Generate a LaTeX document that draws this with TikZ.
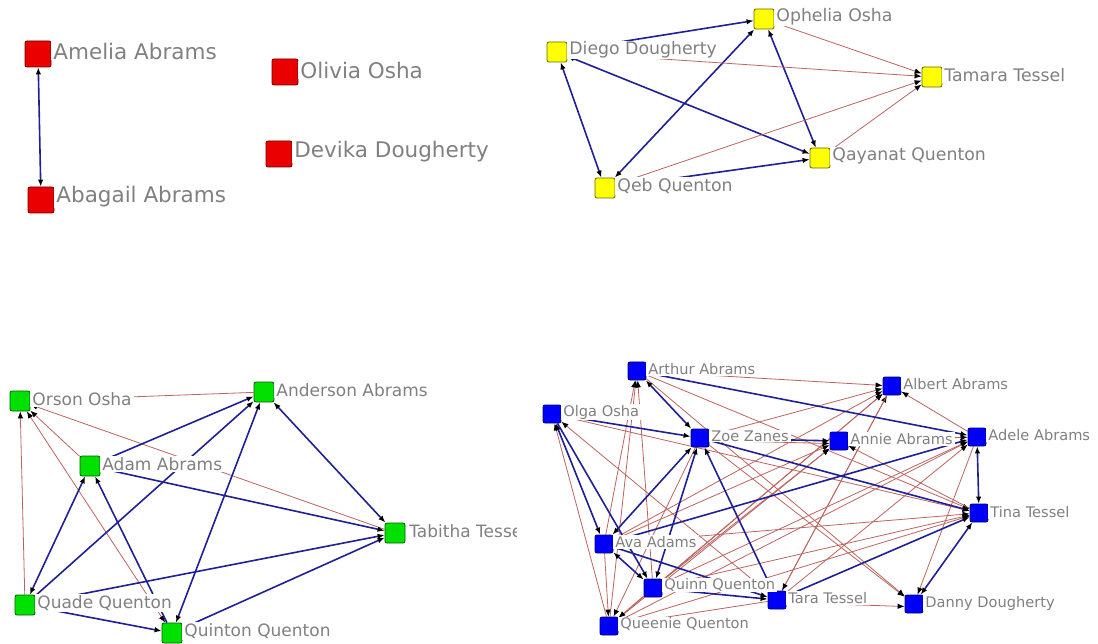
\documentclass[tikz,border=0pt]{standalone}
\usepackage{fontspec}
\setmainfont{DejaVu Sans}
\usetikzlibrary{arrows.meta}
\pgfdeclarelayer{paper}
\pgfdeclarelayer{edges}
\pgfsetlayers{paper,edges,main}
\definecolor{labgray}{RGB}{128,128,128}
\definecolor{linkblue}{RGB}{32,32,150}
\definecolor{linkred}{RGB}{188,100,95}
\definecolor{nodered}{RGB}{235,0,0}
\definecolor{nodeyellow}{RGB}{255,255,0}
\definecolor{nodegreen}{RGB}{0,225,0}
\definecolor{nodeblue}{RGB}{0,0,250}
\begin{document}
\begin{tikzpicture}[x=1pt,y=-1pt,
  >={Latex[length=7pt,width=5.5pt,color=black]},
  sqnode/.style={draw, rounded corners=2pt, inner sep=0pt, minimum size=#1, line width=0.8pt},
  rbox/.style={sqnode=26pt, fill=nodered, draw=nodered!45!black},
  ybox/.style={sqnode=20pt, fill=nodeyellow, draw=nodeyellow!40!black},
  gbox/.style={sqnode=20pt, fill=nodegreen, draw=nodegreen!40!black},
  bbox/.style={sqnode=18pt, fill=nodeblue, draw=nodeblue!45!black},
  lab/.style={anchor=west, text=labgray, fill=white, inner xsep=2pt, inner ysep=1pt, outer sep=0pt},
  rlab/.style={lab, font=\fontsize{21.5}{25}\selectfont},
  ylab/.style={lab, font=\fontsize{17.3}{20}\selectfont},
  glab/.style={lab, font=\fontsize{17}{20}\selectfont},
  blab/.style={lab, font=\fontsize{14.6}{17}\selectfont},
  tie/.style={draw=linkblue, line width=1.6pt},
  weak/.style={draw=linkred, line width=0.8pt},
]
\begin{pgfonlayer}{paper}
\fill[white] (0,0) rectangle (1098,644);
\end{pgfonlayer}
\useasboundingbox (0,0) rectangle (1098,644);

% ---------- red component ----------
\node[rbox] (amelia)  at (38,54)  {};
\node[rbox] (abagail) at (41,200) {};
\node[rbox] (olivia)  at (285,72) {};
\node[rbox] (devika)  at (279,154) {};

% ---------- yellow component ----------
\node[ybox] (diego)   at (557,52)  {};
\node[ybox] (ophelia) at (764,19)  {};
\node[ybox] (tamara)  at (932,77)  {};
\node[ybox] (qayanat) at (820,158) {};
\node[ybox] (qeb)     at (605,188) {};

% ---------- green component ----------
\node[gbox] (orson)    at (20,401)  {};
\node[gbox] (anderson) at (264,392) {};
\node[gbox] (adam)     at (90,466)  {};
\node[gbox] (tabitha)  at (395,533) {};
\node[gbox] (quade)    at (25,605)  {};
\node[gbox] (quinton)  at (172,633) {};

% ---------- blue component ----------
\node[bbox] (arthur)  at (637,371) {};
\node[bbox] (olga)    at (552,414) {};
\node[bbox] (zoe)     at (700,438) {};
\node[bbox] (annie)   at (839,441) {};
\node[bbox] (albert)  at (892,386) {};
\node[bbox] (adele)   at (977,437) {};
\node[bbox] (tina)    at (979,513) {};
\node[bbox] (ava)     at (604,544) {};
\node[bbox] (quinn)   at (653,588) {};
\node[bbox] (tara)    at (777,600) {};
\node[bbox] (danny)   at (914,604) {};
\node[bbox] (queenie) at (609,626) {};

\begin{pgfonlayer}{edges}
% red component
\draw[tie,<->] (amelia) -- (abagail);

% yellow component
\draw[tie,<->] (diego) -- (qeb);
\draw[tie,<->] (diego) -- (qayanat);
\draw[tie,<->] (qeb) -- (ophelia);
\draw[tie,<->] (ophelia) -- (qayanat);
\draw[tie,->] (diego) -- (ophelia);
\draw[tie,->] (qeb) -- (qayanat);
\draw[weak,->] (ophelia) -- (tamara);
\draw[weak,->] (diego) -- (tamara);
\draw[weak,->] (qeb) -- (tamara);
\draw[weak,->] (qayanat) -- (tamara);

% green component
\draw[weak,->] (anderson) -- (orson);
\draw[weak,->] (adam) -- (orson);
\draw[weak,->] (tabitha) -- (orson);
\draw[weak,->] (quade) -- (orson);
\draw[weak,<->] (quinton) -- (orson);
\draw[tie,->] (adam) -- (anderson);
\draw[tie,->] (quade) -- (anderson);
\draw[tie,<->] (quinton) -- (anderson);
\draw[tie,<->] (anderson) -- (tabitha);
\draw[tie,->] (adam) -- (tabitha);
\draw[tie,->] (quade) -- (tabitha);
\draw[tie,->] (quinton) -- (tabitha);
\draw[tie,->] (quade) -- (quinton);
\draw[tie,->] (quinton) -- (adam);
\draw[tie,<->] (quade) -- (adam);

% blue component: weak ties
\draw[weak,->] (arthur) -- (albert);
\draw[weak,->] (arthur) -- (tina);
\draw[weak,->] (arthur) -- (danny);
\draw[weak,->] (ava) -- (arthur);
\draw[weak,->] (quinn) -- (arthur);
\draw[weak,->] (queenie) -- (arthur);
\draw[weak,->] (tara) -- (olga);
\draw[weak,->] (queenie) -- (olga);
\draw[weak,->] (ava) -- (albert);
\draw[weak,->] (quinn) -- (albert);
\draw[weak,->] (queenie) -- (albert);
\draw[weak,->] (tara) -- (albert);
\draw[weak,->] (adele) -- (albert);
\draw[weak,->] (zoe) -- (albert);
\draw[weak,->] (ava) -- (annie);
\draw[weak,->] (quinn) -- (annie);
\draw[weak,->] (queenie) -- (annie);
\draw[weak,->] (tina) -- (annie);
\draw[weak,->] ([yshift=-2.5pt]zoe.east) -- ([yshift=-2.5pt]annie.west);
\draw[weak,->] (quinn) -- (adele);
\draw[weak,->] (queenie) -- (adele);
\draw[weak,->] (tara) -- (adele);
\draw[weak,->] (annie) -- (adele);
\draw[weak,->] (ava) -- (tina);
\draw[weak,->] (quinn) -- (tina);
\draw[weak,->] (queenie) -- (tina);
\draw[weak,->] (olga) -- (tina);
\draw[weak,->] (adele) -- (danny);
\draw[weak,->] ([yshift=-2.5pt]tara.east) -- ([yshift=-2.5pt]danny.west);
\draw[weak,->] (zoe) -- (danny);
\draw[weak,->] (ava) -- (queenie);
\draw[weak,->] (quinn) -- (queenie);
\draw[weak,->] (tara) -- (queenie);
\draw[weak,->] (zoe) -- (queenie);
\draw[weak,->] (albert) -- (tara);

% blue component: strong ties
\draw[tie,<->] (arthur) -- (zoe);
\draw[tie,->] (olga) -- (zoe);
\draw[tie,->] (zoe) -- (annie);
\draw[tie,->] (arthur) -- (adele);
\draw[tie,->] (zoe) -- (tina);
\draw[tie,<->] (ava) -- (adele);
\draw[tie,<->] (adele) -- (tina);
\draw[tie,->] (tara) -- (tina);
\draw[tie,<->] (danny) -- (tina);
\draw[tie,<->] (ava) -- (zoe);
\draw[tie,<->] (olga) -- (ava);
\draw[tie,<->] (ava) -- (quinn);
\draw[tie,->] (olga) -- (quinn);
\draw[tie,<->] (zoe) -- (quinn);
\draw[tie,->] (tara) -- (zoe);
\draw[tie,->] (ava) -- (tara);
\draw[tie,->] (quinn) -- (tara);
\end{pgfonlayer}

% ---------- labels ----------
\node[rlab] (amelia-l)  at ([yshift=3pt]amelia.east)  {Amelia Abrams};
\node[rlab] (abagail-l) at ([yshift=3pt]abagail.east) {Abagail Abrams};
\node[rlab] (olivia-l)  at ([yshift=2pt]olivia.east)  {Olivia Osha};
\node[rlab] (devika-l)  at ([yshift=2pt]devika.east)  {Devika Dougherty};

\node[ylab] (diego-l)   at ([yshift=2pt]diego.east)   {Diego Dougherty};
\node[ylab] (ophelia-l) at ([yshift=2pt]ophelia.east) {Ophelia Osha};
\node[ylab] (tamara-l)  at ([yshift=2pt]tamara.east)  {Tamara Tessel};
\node[ylab] (qayanat-l) at ([yshift=2pt]qayanat.east) {Qayanat Quenton};
\node[ylab] (qeb-l)     at ([yshift=2pt]qeb.east)     {Qeb Quenton};

\node[glab] (orson-l)    at ([yshift=2pt]orson.east)    {Orson Osha};
\node[glab] (anderson-l) at ([yshift=2pt]anderson.east) {Anderson Abrams};
\node[glab] (adam-l)     at ([yshift=2pt]adam.east)     {Adam Abrams};
\node[glab] (quade-l)    at ([yshift=2pt]quade.east)    {Quade Quenton};
\node[glab] (quinton-l)  at ([yshift=2pt]quinton.east)  {Quinton Quenton};
\begin{scope}
  \clip (0,0) rectangle (516,644);
  \node[glab] (tabitha-l) at ([xshift=2pt,yshift=2pt]tabitha.east) {Tabitha Tessel};
\end{scope}

\node[blab] (arthur-l)  at ([yshift=2pt]arthur.east)  {Arthur Abrams};
\node[blab] (olga-l)    at ([yshift=2pt]olga.east)    {Olga Osha};
\node[blab] (zoe-l)     at ([yshift=2pt]zoe.east)     {Zoe Zanes};
\node[blab] (annie-l)   at ([yshift=2pt]annie.east)   {Annie Abrams};
\node[blab] (albert-l)  at ([yshift=2pt]albert.east)  {Albert Abrams};
\node[blab] (adele-l)   at ([yshift=2pt]adele.east)   {Adele Abrams};
\node[blab] (tina-l)    at ([yshift=1pt]tina.east)    {Tina Tessel};
\node[blab] (ava-l)     at ([yshift=2pt]ava.east)     {Ava Adams};
\node[blab] (quinn-l)   at ([yshift=3pt]quinn.east)   {Quinn Quenton};
\node[blab] (tara-l)    at ([yshift=2pt]tara.east)    {Tara Tessel};
\node[blab] (danny-l)   at ([yshift=1pt]danny.east)   {Danny Dougherty};
\node[blab] (queenie-l) at ([yshift=2pt]queenie.east) {Queenie Quenton};
\end{tikzpicture}
\end{document}
